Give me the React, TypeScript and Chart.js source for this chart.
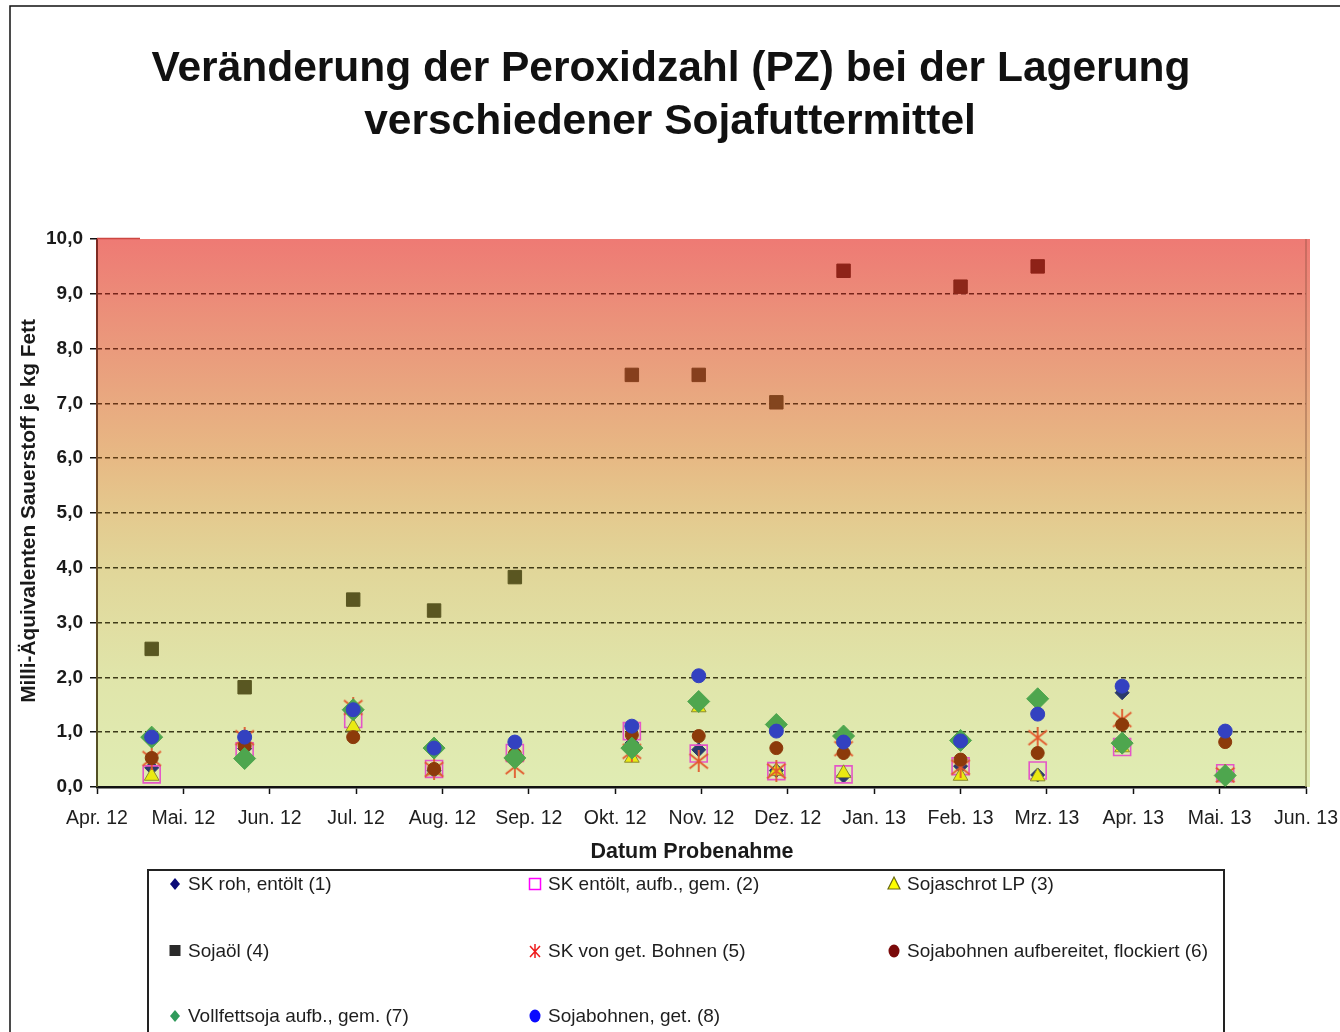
import { useEffect, useRef } from "react";
import { Chart, registerables } from "chart.js";

Chart.register(...registerables);

// ---------------- data ----------------
const titleLines = [
  "Veränderung der Peroxidzahl (PZ) bei der Lagerung",
  "verschiedener Sojafuttermittel",
];
const yAxisTitle = "Milli-Äquivalenten Sauerstoff je kg Fett";
const xAxisTitle = "Datum Probenahme";

const monthLabels = [
  "Apr. 12", "Mai. 12", "Jun. 12", "Jul. 12", "Aug. 12", "Sep. 12", "Okt. 12",
  "Nov. 12", "Dez. 12", "Jan. 13", "Feb. 13", "Mrz. 13", "Apr. 13", "Mai. 13", "Jun. 13",
];

const sampleDates = [
  "2012-04-20", "2012-05-23", "2012-06-30", "2012-07-29", "2012-08-27",
  "2012-10-07", "2012-10-31", "2012-11-27", "2012-12-21", "2013-02-01",
  "2013-02-26", "2013-03-28", "2013-05-03",
];

const seriesNames = [
  "SK roh, entölt (1)",
  "SK entölt, aufb., gem. (2)",
  "Sojaschrot LP (3)",
  "Sojaöl (4)",
  "SK von get. Bohnen (5)",
  "Sojabohnen aufbereitet, flockiert (6)",
  "Vollfettsoja aufb., gem. (7)",
  "Sojabohnen, get. (8)",
];

const skRohEntoelt = [0.35, 0.7, 1.35, 0.3, 0.6, 0.8, 0.68, 0.3, 0.2, 0.38, 0.22, 1.72, 0.2];
const skEntoeltAufbGem = [0.23, 0.65, 1.24, 0.33, 0.62, 1.02, 0.61, 0.29, 0.23, 0.38, 0.3, 0.73, 0.25];
const sojaschrotLP = [0.2, 0.55, 1.1, 0.3, 0.55, 0.53, 1.45, 0.29, 0.25, 0.2, 0.19, 0.72, 0.2];
const sojaoel = [2.52, 1.82, 3.42, 3.22, 3.83, 7.52, 7.52, 7.02, 9.42, 9.13, 9.5, null, null];
const skVonGetBohnen = [0.52, 0.9, 1.45, 0.32, 0.37, 0.65, 0.47, 0.29, 0.7, 0.36, 0.9, 1.23, 0.22];
const sojabohnenFlockiert = [0.53, 0.75, 0.91, 0.33, 0.6, 0.95, 0.93, 0.71, 0.62, 0.5, 0.62, 1.14, 0.82];
const vollfettsoja = [0.91, 0.52, 1.41, 0.71, 0.53, 0.71, 1.56, 1.14, 0.93, 0.85, 1.61, 0.8, 0.21];
const sojabohnenGet = [0.91, 0.91, 1.41, 0.71, 0.82, 1.11, 2.03, 1.02, 0.82, 0.84, 1.33, 1.84, 1.02];

const seriesValues = [
  skRohEntoelt, skEntoeltAufbGem, sojaschrotLP, sojaoel,
  skVonGetBohnen, sojabohnenFlockiert, vollfettsoja, sojabohnenGet,
];

// ---------------- helpers ----------------
const FONT = '"Liberation Sans", Arial, Helvetica, sans-serif';

function monthPos(date: string): number {
  const [y, m, d] = date.split("-").map(Number);
  const months = (y - 2012) * 12 + (m - 4);
  const dim = new Date(y, m, 0).getDate();
  return months + (d - 1) / dim;
}

type RGB = [number, number, number];
function interp(stops: [number, RGB][], v: number): string {
  if (v <= stops[0][0]) return `rgb(${stops[0][1].join(",")})`;
  for (let i = 1; i < stops.length; i++) {
    if (v <= stops[i][0]) {
      const [v0, c0] = stops[i - 1];
      const [v1, c1] = stops[i];
      const t = (v - v0) / (v1 - v0);
      const c = c0.map((x, k) => Math.round(x + (c1[k] - x) * t));
      return `rgb(${c.join(",")})`;
    }
  }
  return `rgb(${stops[stops.length - 1][1].join(",")})`;
}

const squareTint: [number, RGB][] = [
  [0, [88, 88, 34]],
  [3.9, [90, 86, 33]],
  [7.2, [133, 68, 30]],
  [9.5, [142, 34, 24]],
];
const gridTint: [number, RGB][] = [
  [0, [58, 58, 26]],
  [4, [66, 60, 24]],
  [6, [96, 62, 22]],
  [9, [118, 36, 26]],
  [10, [122, 30, 26]],
];
const bgStops: [number, string][] = [
  [0, "#ee7a74"],
  [0.2, "#ea9a7c"],
  [0.4, "#e7b984"],
  [0.5, "#e4c98e"],
  [0.6, "#e1d699"],
  [0.8, "#e0e5aa"],
  [1, "#e0ecb3"],
];

function makeAsterisk(color: string, size: number, lw: number): HTMLCanvasElement {
  const c = document.createElement("canvas");
  c.width = size;
  c.height = size;
  const x = c.getContext("2d")!;
  x.strokeStyle = color;
  x.lineWidth = lw;
  x.lineCap = "butt";
  const p = lw;
  x.beginPath();
  x.moveTo(p, p + 2);
  x.lineTo(size - p, size - p - 2);
  x.moveTo(size - p, p + 2);
  x.lineTo(p, size - p - 2);
  x.moveTo(size / 2, 0);
  x.lineTo(size / 2, size);
  x.stroke();
  return c;
}

// legend marker drawing
function drawLegendMarker(ctx: CanvasRenderingContext2D, i: number, x: number, y: number) {
  ctx.save();
  ctx.setLineDash([]);
  switch (i) {
    case 0:
      ctx.fillStyle = "#0a0a78";
      ctx.beginPath();
      ctx.moveTo(x, y - 6); ctx.lineTo(x + 5, y); ctx.lineTo(x, y + 6); ctx.lineTo(x - 5, y);
      ctx.closePath(); ctx.fill();
      break;
    case 1:
      ctx.strokeStyle = "#ff00ff"; ctx.lineWidth = 1.5;
      ctx.strokeRect(x - 5.5, y - 5.5, 11, 11);
      break;
    case 2:
      ctx.fillStyle = "#ffff00"; ctx.strokeStyle = "#6b6b10"; ctx.lineWidth = 1.2;
      ctx.beginPath();
      ctx.moveTo(x, y - 7); ctx.lineTo(x + 6, y + 5); ctx.lineTo(x - 6, y + 5);
      ctx.closePath(); ctx.fill(); ctx.stroke();
      break;
    case 3:
      ctx.fillStyle = "#2a2a2a";
      ctx.fillRect(x - 5.5, y - 6, 11, 11);
      break;
    case 4:
      ctx.strokeStyle = "#ee1c1c"; ctx.lineWidth = 1.5;
      ctx.beginPath();
      ctx.moveTo(x - 5, y - 5); ctx.lineTo(x + 5, y + 6);
      ctx.moveTo(x + 5, y - 5); ctx.lineTo(x - 5, y + 6);
      ctx.moveTo(x, y - 7); ctx.lineTo(x, y + 7);
      ctx.stroke();
      break;
    case 5:
      ctx.fillStyle = "#7a0a0a";
      ctx.beginPath(); ctx.ellipse(x, y, 5.5, 6.5, 0, 0, Math.PI * 2); ctx.fill();
      break;
    case 6:
      ctx.fillStyle = "#2f9a5a";
      ctx.beginPath();
      ctx.moveTo(x, y - 6); ctx.lineTo(x + 5, y); ctx.lineTo(x, y + 6); ctx.lineTo(x - 5, y);
      ctx.closePath(); ctx.fill();
      break;
    case 7:
      ctx.fillStyle = "#0a0aff";
      ctx.beginPath(); ctx.ellipse(x, y, 5.5, 6.5, 0, 0, Math.PI * 2); ctx.fill();
      break;
  }
  ctx.restore();
}

const legendCols = [175, 535, 894];
const legendRows = [884, 951, 1016];

const decorPlugin = {
  id: "decor",
  beforeDraw(chart: any) {
    const { ctx, chartArea: a } = chart;
    ctx.save();
    ctx.fillStyle = "#ffffff";
    ctx.fillRect(0, 0, chart.width, chart.height);
    const g = ctx.createLinearGradient(0, a.top, 0, a.bottom);
    bgStops.forEach(([o, c]) => g.addColorStop(o, c));
    ctx.fillStyle = g;
    ctx.fillRect(a.left, a.top, a.right - a.left + 4, a.bottom - a.top);
    ctx.restore();
  },
  beforeDatasetsDraw(chart: any) {
    const { ctx, chartArea: a } = chart;
    ctx.save();
    const lg = ctx.createLinearGradient(0, a.top, 0, a.bottom);
    lg.addColorStop(0, "rgb(128,40,34)");
    lg.addColorStop(0.5, "rgb(110,80,40)");
    lg.addColorStop(1, "rgb(80,80,36)");
    ctx.strokeStyle = lg;
    ctx.lineWidth = 2;
    ctx.beginPath();
    ctx.moveTo(a.left, a.top);
    ctx.lineTo(a.left, a.bottom);
    ctx.stroke();
    // short red segment at the top-left corner of the plot area
    ctx.strokeStyle = "rgb(205,70,65)";
    ctx.lineWidth = 1.5;
    ctx.beginPath();
    ctx.moveTo(a.left, a.top - 0.5);
    ctx.lineTo(a.left + 43, a.top - 0.5);
    ctx.stroke();
    const rg = ctx.createLinearGradient(0, a.top, 0, a.bottom);
    rg.addColorStop(0, "rgb(190,100,90)");
    rg.addColorStop(0.5, "rgb(175,140,95)");
    rg.addColorStop(1, "rgb(160,160,100)");
    ctx.strokeStyle = rg;
    ctx.lineWidth = 1.5;
    ctx.beginPath();
    ctx.moveTo(a.right, a.top);
    ctx.lineTo(a.right, a.bottom);
    ctx.stroke();
    ctx.restore();
  },
  afterDraw(chart: any) {
    const { ctx } = chart;
    ctx.save();
    // outer frame
    ctx.strokeStyle = "#111";
    ctx.lineWidth = 1.5;
    ctx.strokeRect(10, 6, 1400, 1100);

    // title
    ctx.fillStyle = "#111";
    ctx.textAlign = "center";
    ctx.textBaseline = "middle";
    ctx.font = `bold 42.5px ${FONT}`;
    ctx.fillText(titleLines[0], 671, 69);
    ctx.fillText(titleLines[1], 670, 122);

    // x axis title
    ctx.font = `bold 21.5px ${FONT}`;
    ctx.fillStyle = "#1a1a1a";
    ctx.fillText(xAxisTitle, 692, 852);

    // y axis title
    ctx.save();
    ctx.translate(29, 511);
    ctx.rotate(-Math.PI / 2);
    ctx.font = `bold 20.8px ${FONT}`;
    ctx.fillText(yAxisTitle, 0, 0);
    ctx.restore();

    // legend box
    ctx.strokeStyle = "#222";
    ctx.lineWidth = 2;
    ctx.strokeRect(148, 870, 1076, 200);
    ctx.font = `19px ${FONT}`;
    ctx.textAlign = "left";
    ctx.fillStyle = "#1e1e1e";
    seriesNames.forEach((name, i) => {
      const col = i % 3;
      const row = Math.floor(i / 3);
      const mx = legendCols[col];
      const y = legendRows[row];
      drawLegendMarker(ctx, i, mx, y);
      ctx.fillText(name, mx + 13, y + 1);
    });
    ctx.restore();
  },
};

export default function App() {
  const ref = useRef<HTMLCanvasElement>(null);

  useEffect(() => {
    const canvas = ref.current!;
    const asterisk = makeAsterisk("#e2582c", 22, 1.8);

    const styles = [
      { pointStyle: "rectRot", pointRadius: 7, backgroundColor: "#2b3a6b", borderColor: "#2b3a6b", borderWidth: 1 },
      { pointStyle: "rect", pointRadius: 12, backgroundColor: "rgba(0,0,0,0)", borderColor: "#e455c8", borderWidth: 1.6 },
      { pointStyle: "triangle", pointRadius: 8.5, backgroundColor: "#eaea12", borderColor: "#8a8a30", borderWidth: 1 },
      {
        pointStyle: "rect", pointRadius: 9.5,
        backgroundColor: (c: any) => interp(squareTint, c.raw ? c.raw.y : 0),
        borderColor: (c: any) => interp(squareTint, c.raw ? c.raw.y : 0),
        borderWidth: 1,
      },
      { pointStyle: asterisk, pointRadius: 11, backgroundColor: "#e2582c", borderColor: "#e2582c", borderWidth: 0 },
      { pointStyle: "circle", pointRadius: 6.5, backgroundColor: "#8c3a0a", borderColor: "#8c3a0a", borderWidth: 1 },
      { pointStyle: "rectRot", pointRadius: 11, backgroundColor: "#4ea64e", borderColor: "#4ea64e", borderWidth: 1 },
      { pointStyle: "circle", pointRadius: 7, backgroundColor: "#3341c0", borderColor: "#3341c0", borderWidth: 1 },
    ];

    const datasets = seriesValues.map((vals, i) => ({
      label: seriesNames[i],
      data: sampleDates
        .map((d, k) => ({ x: monthPos(d), y: vals[k] }))
        .filter((p) => p.y !== null && p.y !== undefined),
      showLine: false,
      order: 8 - i,
      pointHoverRadius: (styles[i] as any).pointRadius,
      ...styles[i],
    }));

    const chart = new Chart(canvas, {
      type: "scatter",
      data: { datasets: datasets as any },
      plugins: [decorPlugin as any],
      options: {
        responsive: false,
        animation: false,
        events: [],
        layout: { padding: { left: 10, top: 239, right: 34, bottom: 195 } },
        plugins: {
          legend: { display: false },
          title: { display: false },
          tooltip: { enabled: false },
        },
        scales: {
          x: {
            type: "linear",
            min: 0,
            max: monthLabels.length - 1,
            afterFit: (s: any) => {
              s.height = 50;
              s.paddingLeft = 0;
              s.paddingRight = 0;
            },
            afterBuildTicks: (s: any) => {
              s.ticks = monthLabels.map((_, i) => ({ value: i }));
            },
            ticks: {
              autoSkip: false,
              maxRotation: 0,
              minRotation: 0,
              padding: 13,
              color: "#1e1e1e",
              font: { family: FONT, size: 19.5 },
              callback: (v: any) => monthLabels[Math.round(Number(v))] ?? "",
            },
            grid: {
              drawOnChartArea: false,
              drawTicks: true,
              tickLength: 7,
              tickColor: "#111",
              tickWidth: 1.5,
            },
            border: { display: true, color: "#111", width: 2.5 },
          },
          y: {
            type: "linear",
            min: 0,
            max: 10,
            afterFit: (s: any) => {
              s.width = 87;
              s.paddingTop = 0;
              s.paddingBottom = 0;
            },
            ticks: {
              stepSize: 1,
              padding: 7,
              color: "#1a1a1a",
              font: { family: FONT, size: 19, weight: "bold" },
              callback: (v: any) => Number(v).toFixed(1).replace(".", ","),
            },
            grid: {
              drawTicks: true,
              tickLength: 7,
              tickColor: "#111",
              tickWidth: 1.5,
              tickBorderDash: [],
              lineWidth: 1.5,
              color: (c: any) => {
                const v = c.tick ? c.tick.value : 0;
                if (v <= 0 || v >= 10) return "rgba(0,0,0,0)";
                return interp(gridTint, v);
              },
            },
            border: { display: false, dash: [5, 3] },
          },
        },
      } as any,
    });
    return () => chart.destroy();
  }, []);

  return (
    <div style={{ position: "fixed", left: 0, top: 0, width: 1340, height: 1032, background: "#fff" }}>
      <canvas ref={ref} width={1340} height={1032} style={{ display: "block", width: 1340, height: 1032 }} />
    </div>
  );
}
